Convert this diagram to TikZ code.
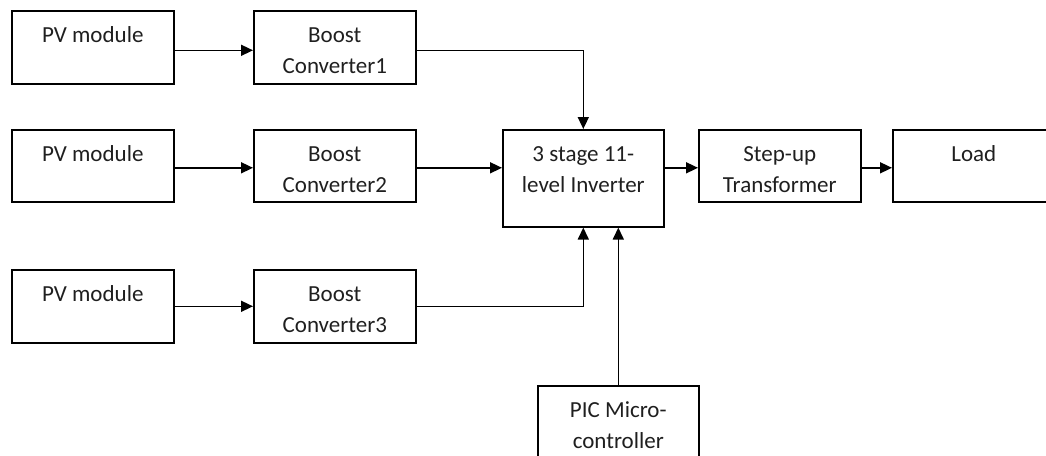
\documentclass[tikz,border=0pt]{standalone}
\usepackage{fontspec}
\setmainfont{Carlito}
\usetikzlibrary{arrows.meta,calc}

\tikzset{
  blk/.style={draw, line width=1.6pt, anchor=north west, inner sep=0pt,
    minimum width=162pt, minimum height=73pt},
  txt/.style={anchor=base, inner sep=0pt, text=black!88,
    font=\fontsize{23}{28}\selectfont},
  one/.style={label={[txt, yshift=-32pt]north:#1}},
  two/.style={label={[txt, yshift=-63pt]north:#1}},
  link/.style={line width=1.6pt, -{Triangle[length=12pt,width=11pt]}}
}

\begin{document}
\begin{tikzpicture}[x=1pt, y=-1pt]
  \useasboundingbox (0,0) rectangle (1046,455);
  \clip (0,0) rectangle (1046,455);

  % sources and boost stages
  \node[blk, one={PV module}] (pv1) at (11,10) {};
  \node[blk, one={Boost}, two={Converter1}] (bc1) at (253,10) {};
  \node[blk, minimum height=72pt, one={PV module}] (pv2) at (11,129) {};
  \node[blk, minimum height=72pt, one={Boost}, two={Converter2}] (bc2) at (253,129) {};
  \node[blk, one={PV module}] (pv3) at (11,269) {};
  \node[blk, one={Boost}, two={Converter3}] (bc3) at (253,269) {};

  % inverter, transformer and load
  \node[blk, minimum width=161pt, minimum height=97pt,
        one={3 stage 11-}, two={level Inverter}] (inv) at (502,129) {};
  \node[blk, minimum height=72pt, one={Step-up}, two={Transformer}] (tr) at (698,129) {};
  \node[blk, minimum height=72pt, one={Load}] (load) at (892,129) {};

  % controller
  \node[blk, minimum width=161pt, minimum height=80pt,
        one={PIC Micro-}, two={controller}] (pic) at (537,385) {};

  % PV to boost
  \draw[link] ([yshift=-3pt]pv1.east) -- ([yshift=-3pt]bc1.west);
  \draw[link] ([yshift=-2pt]pv2.east) -- ([yshift=-2pt]bc2.west);
  \draw[link] (pv3.east) -- (bc3.west);

  % boost to inverter
  \draw[link] ([yshift=-3pt]bc1.east) -| (inv.north);
  \coordinate (b2o) at ([yshift=-2pt]bc2.east);
  \draw[link] (b2o) -- (b2o -| inv.west);
  \draw[link] (bc3.east) -| (inv.south);

  % controller to inverter
  \draw[link] (pic.north) -- (pic.north |- inv.south);

  % inverter to transformer to load
  \coordinate (tin) at ([yshift=-2pt]tr.west);
  \draw[link] (tin -| inv.east) -- (tin);
  \draw[link] ([yshift=-2pt]tr.east) -- ([yshift=-2pt]load.west);
\end{tikzpicture}
\end{document}
